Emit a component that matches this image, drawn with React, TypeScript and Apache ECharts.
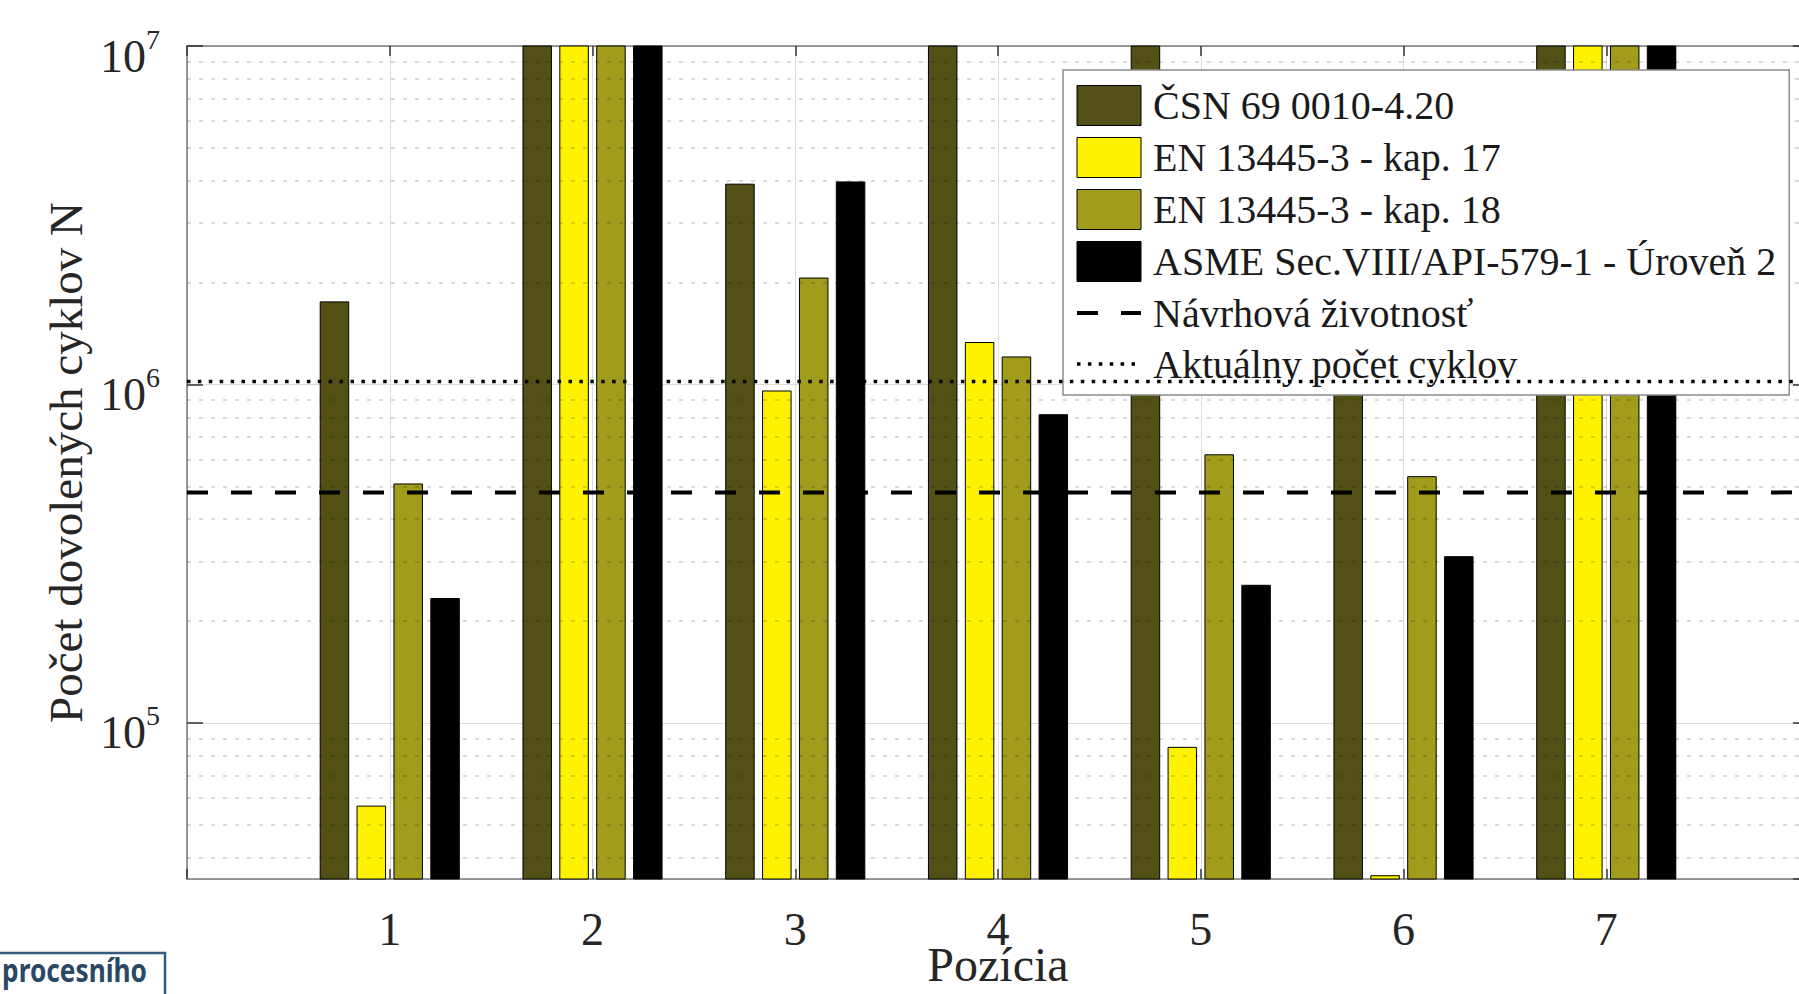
import React, { useEffect, useRef } from 'react';
import * as echarts from 'echarts';

// ---- data ----
const POSITIONS = ['1', '2', '3', '4', '5', '6', '7'];
// padding positions 0 and 8 keep the MATLAB-like x range [0, 8]
const AXIS_CATEGORIES = ['0', ...POSITIONS, '8'];

const SERIES_NAMES = [
  'ČSN 69 0010-4.20',
  'EN 13445-3 - kap. 17',
  'EN 13445-3 - kap. 18',
  'ASME Sec.VIII/API-579-1 - Úroveň 2',
];
const CSN = [1.76e6, 2e7, 3.92e6, 2e7, 2e7, 5e6, 2e7];
const EN17 = [5.7e4, 2e7, 9.6e5, 1.335e6, 8.5e4, 3.55e4, 2e7];
const EN18 = [5.1e5, 2e7, 2.07e6, 1.21e6, 6.22e5, 5.36e5, 2e7];
const ASME = [2.34e5, 2e7, 3.98e6, 8.17e5, 2.56e5, 3.11e5, 2e7];
const SERIES_VALUES = [CSN, EN17, EN18, ASME];
const SERIES_COLORS = ['#535016', '#fff200', '#a29c1d', '#000000'];

const DESIGN_LIFE_NAME = 'Návrhová životnosť';
const DESIGN_LIFE = 4.8e5;
const CURRENT_NAME = 'Aktuálny počet cyklov';
const CURRENT_CYCLES = 1.02e6;

const Y_MIN = 3.46e4;
const Y_MAX = 1e7;
const Y_MINOR = [
  4e4, 5e4, 6e4, 7e4, 8e4, 9e4,
  2e5, 3e5, 4e5, 5e5, 6e5, 7e5, 8e5, 9e5,
  2e6, 3e6, 4e6, 5e6, 6e6, 7e6, 8e6, 9e6,
];

const FONT = '"Liberation Serif", "Times New Roman", serif';
const TEXT_COLOR = '#262626';

export default function App() {
  const ref = useRef<HTMLDivElement>(null);

  useEffect(() => {
    if (!ref.current) return;
    const chart = echarts.init(ref.current, undefined, { renderer: 'svg' });

    const barSeries = SERIES_NAMES.map((name, i) => ({
      type: 'bar',
      name,
      data: [null, ...SERIES_VALUES[i], null],
      barWidth: 29.5,
      barGap: '25%',
      clip: true,
      z: 2,
      itemStyle: { color: SERIES_COLORS[i], borderColor: '#000', borderWidth: 1 },
      markLine:
        i === 0
          ? {
              silent: true,
              symbol: ['none', 'none'],
              label: { show: false },
              z: 3,
              lineStyle: { color: 'rgba(0,0,0,0.2)', type: [4, 8], width: 1.5 },
              data: Y_MINOR.map((v) => ({ yAxis: v })),
            }
          : undefined,
    }));

    const lineSeries = [
      {
        type: 'line',
        name: DESIGN_LIFE_NAME,
        data: [[0, DESIGN_LIFE], [AXIS_CATEGORIES.length - 1, DESIGN_LIFE]],
        symbol: 'none',
        z: 6,
        silent: true,
        itemStyle: { color: '#000' },
        lineStyle: { color: '#000', width: 4, type: [21, 23] },
      },
      {
        type: 'line',
        name: CURRENT_NAME,
        data: [[0, CURRENT_CYCLES], [AXIS_CATEGORIES.length - 1, CURRENT_CYCLES]],
        symbol: 'none',
        z: 6,
        silent: true,
        itemStyle: { color: '#000' },
        lineStyle: { color: '#000', width: 3.5, type: [3.5, 7.4] },
      },
    ];

    const option: any = {
      animation: false,
      backgroundColor: '#ffffff',
      grid: {
        left: 187,
        top: 46,
        right: -10,
        bottom: 115,
        outerBoundsMode: 'none',
        containLabel: false,
      },
      legend: {
        orient: 'vertical',
        left: 1063,
        top: 70,
        selectedMode: false,
        itemWidth: 64,
        itemHeight: 40,
        itemGap: 11,
        padding: [15, 13, 11, 12],
        backgroundColor: '#ffffff',
        borderColor: '#8c8c8c',
        borderWidth: 1.5,
        borderRadius: 0,
        itemStyle: { borderWidth: 1, borderColor: '#000' },
        textStyle: { fontFamily: FONT, fontSize: 40, color: '#1a1a1a', padding: [0, 0, 0, 7] },
        data: [
          ...SERIES_NAMES.map((name) => ({ name, icon: 'rect' })),
          { name: DESIGN_LIFE_NAME, itemStyle: { opacity: 0 }, lineStyle: { width: 4 } },
          { name: CURRENT_NAME, itemStyle: { opacity: 0 }, lineStyle: { width: 3.5 } },
        ],
      },
      xAxis: [
        {
          type: 'category',
          data: AXIS_CATEGORIES,
          boundaryGap: false,
          position: 'bottom',
          name: 'Pozícia',
          nameLocation: 'middle',
          nameGap: 61,
          nameMoveOverlap: false,
          nameTextStyle: { fontFamily: FONT, fontSize: 48, color: TEXT_COLOR },
          axisLine: { show: true, lineStyle: { color: '#7a7a7a', width: 1.5 } },
          axisTick: { show: true, inside: true, length: 10, interval: 0, lineStyle: { color: '#333', width: 1.5 } },
          axisLabel: {
            interval: 0,
            margin: 27,
            fontFamily: FONT,
            fontSize: 46,
            color: TEXT_COLOR,
            formatter: (v: string) => (POSITIONS.includes(v) ? v : ''),
          },
          splitLine: { show: true, interval: 0, lineStyle: { color: '#dcdcdc', width: 1 } },
        },
        {
          type: 'category',
          data: AXIS_CATEGORIES,
          boundaryGap: false,
          position: 'top',
          axisLine: { show: true, lineStyle: { color: '#7a7a7a', width: 1.5 } },
          axisTick: { show: true, inside: true, length: 10, interval: 0, lineStyle: { color: '#333', width: 1.5 } },
          axisLabel: { show: false },
          splitLine: { show: false },
        },
      ],
      yAxis: [
        {
          type: 'log',
          logBase: 10,
          min: Y_MIN,
          max: Y_MAX,
          position: 'left',
          name: 'Počet dovolených cyklov N',
          nameLocation: 'middle',
          nameGap: 77,
          nameTextStyle: { fontFamily: FONT, fontSize: 47, color: TEXT_COLOR },
          axisLine: { show: true, lineStyle: { color: '#7a7a7a', width: 1.5 } },
          axisTick: { show: true, inside: true, length: 16, lineStyle: { color: '#333', width: 1.5 } },
          axisLabel: {
            margin: 27,
            showMinLabel: false,
            padding: [20, 0, 0, 0],
            formatter: (v: number) => {
              const e = Math.log10(v);
              const r = Math.round(e);
              return Math.abs(e - r) < 1e-6 ? `{b|10}{s|${r}}` : '';
            },
            rich: {
              b: {
                fontFamily: FONT,
                fontSize: 46,
                lineHeight: 46,
                color: TEXT_COLOR,
                padding: [20, 0, 0, 0],
                verticalAlign: 'bottom',
              },
              s: {
                fontFamily: FONT,
                fontSize: 28,
                lineHeight: 28,
                color: TEXT_COLOR,
                padding: [0, 0, 26, 0],
                verticalAlign: 'bottom',
              },
            },
          },
          splitLine: { show: true, lineStyle: { color: '#dcdcdc', width: 1 } },
        },
        {
          type: 'log',
          logBase: 10,
          min: Y_MIN,
          max: Y_MAX,
          position: 'right',
          axisLine: { show: true, lineStyle: { color: '#7a7a7a', width: 1.5 } },
          axisTick: { show: true, inside: true, length: 16, lineStyle: { color: '#333', width: 1.5 } },
          axisLabel: { show: false },
          splitLine: { show: false },
        },
      ],
      graphic: [
        {
          type: 'rect',
          z: 100,
          shape: { x: -4, y: 953, width: 169, height: 60 },
          style: { fill: '#ffffff', stroke: '#34597d', lineWidth: 2.5 },
        },
        {
          type: 'text',
          z: 101,
          x: 147,
          y: 970,
          scaleX: 0.82,
          originX: 0,
          originY: 0,
          style: {
            text: 'procesního',
            font: 'bold 32px "Noto Sans", "Open Sans", sans-serif',
            lineHeight: 26,
            fill: '#2a4866',
            textAlign: 'right',
            textVerticalAlign: 'middle',
          },
        },
      ],
      series: [...barSeries, ...lineSeries],
    };

    chart.setOption(option);
    return () => chart.dispose();
  }, []);

  return (
    <div
      ref={ref}
      style={{ position: 'absolute', left: 0, top: 0, width: 1799, height: 994, background: '#fff' }}
    />
  );
}
